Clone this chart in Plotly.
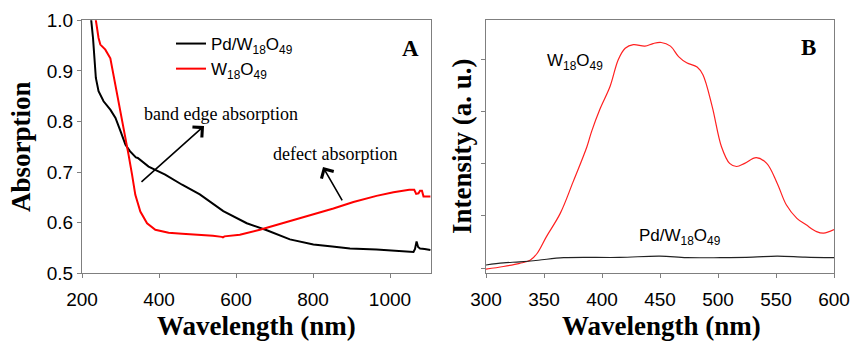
import plotly.graph_objects as go

# ---- Panel A: absorption spectra ----
wl_pd = [221, 224, 228.6, 233, 236, 243, 256, 274, 287, 300, 313, 325, 336, 340, 345, 373, 416, 460,
         506, 567, 628, 680, 740, 801, 850, 896, 965, 1020, 1061, 1065, 1069, 1073, 1078, 1090, 1105]
abs_pd = [1.01, 1.0, 0.965, 0.925, 0.886, 0.860, 0.840, 0.823, 0.807, 0.781, 0.754, 0.741, 0.733, 0.729,
          0.728, 0.711, 0.695, 0.675, 0.656, 0.623, 0.599, 0.585, 0.567, 0.557, 0.553, 0.549, 0.547,
          0.544, 0.542, 0.548, 0.563, 0.552, 0.549, 0.548, 0.546]

wl_w = [234, 236, 243, 247.6, 260.6, 273.6, 282, 295, 308, 321, 330, 338.5, 351.5, 369, 390.5, 425, 460,
        506, 540, 563, 566, 570, 610, 662, 723, 783, 853, 905, 965, 1009, 1050, 1063, 1068, 1074, 1078,
        1083, 1087, 1105]
abs_w = [1.01, 1.0, 0.965, 0.952, 0.942, 0.925, 0.892, 0.840, 0.787, 0.734, 0.695, 0.655, 0.622, 0.599,
         0.586, 0.580, 0.578, 0.576, 0.574, 0.572, 0.571, 0.573, 0.576, 0.586, 0.599, 0.612, 0.628, 0.641,
         0.653, 0.660, 0.665, 0.665, 0.657, 0.658, 0.663, 0.663, 0.652, 0.652]

# ---- Panel B: PL spectra (arbitrary units) ----
wl_pl_w = [300, 315, 329, 338, 344, 352, 364, 375, 387, 391, 398, 407, 414, 420, 427, 437, 444, 451, 459,
           466, 473, 482, 487, 495, 503, 510, 516, 523, 533, 542, 551, 559, 568, 576, 585, 591, 600]
pl_w = [-0.02, 0.03, 0.09, 0.15, 0.28, 0.6, 1.05, 1.65, 2.33, 2.62, 3.04, 3.49, 4.0, 4.22, 4.29, 4.26,
        4.31, 4.33, 4.26, 4.06, 3.94, 3.86, 3.71, 3.10, 2.33, 2.01, 1.95, 2.01, 2.12, 2.01, 1.63, 1.21,
        0.955, 0.83, 0.70, 0.67, 0.74]

wl_pl_pd = [300, 315, 329, 345, 367, 415, 450, 473, 502, 530, 551, 575, 600]
pl_pd = [0.06, 0.10, 0.12, 0.15, 0.20, 0.205, 0.23, 0.20, 0.20, 0.21, 0.23, 0.21, 0.20]

xticks_a = [200, 400, 600, 800, 1000]
yticks_a = [0.5, 0.6, 0.7, 0.8, 0.9, 1.0]
xticks_b = [300, 350, 400, 450, 500, 550, 600]
yticks_b = [0, 1, 2, 3, 4]

SANS = "Liberation Sans, Arial, sans-serif"
SERIF = "Liberation Serif, Times New Roman, serif"

fig = go.Figure()
fig.add_trace(go.Scatter(x=wl_pd, y=abs_pd, mode="lines", name="Pd/W<sub>18</sub>O<sub>49</sub>",
                         line=dict(color="black", width=2), xaxis="x", yaxis="y"))
fig.add_trace(go.Scatter(x=wl_w, y=abs_w, mode="lines", name="W<sub>18</sub>O<sub>49</sub>",
                         line=dict(color="#ff0000", width=2), xaxis="x", yaxis="y"))
fig.add_trace(go.Scatter(x=wl_pl_w, y=pl_w, mode="lines", showlegend=False, line_shape="spline",
                         line=dict(color="#ff2020", width=1.2), xaxis="x2", yaxis="y2"))
fig.add_trace(go.Scatter(x=wl_pl_pd, y=pl_pd, mode="lines", showlegend=False, line_shape="spline",
                         line=dict(color="#222222", width=1.1), xaxis="x2", yaxis="y2"))

axis_common = dict(showgrid=False, zeroline=False, showline=True, mirror=True, linecolor="#7f7f7f",
                   linewidth=1, ticks="outside", ticklen=4, tickcolor="#7f7f7f", automargin=False,
                   tickfont=dict(family=SANS, size=19, color="black"))

fig.update_layout(
    width=853, height=344, autosize=False,
    margin=dict(l=0, r=0, t=0, b=0, pad=0, autoexpand=False),
    paper_bgcolor="white", plot_bgcolor="white",
    xaxis=dict(domain=[82/853, 431/853], range=[200, 1106.5], tickvals=xticks_a, anchor="y",
               ticklabelstandoff=5, **axis_common),
    yaxis=dict(domain=[1-273.3/344, 1-20.3/344], range=[0.5, 1.0], tickvals=yticks_a, tickformat=".1f",
               anchor="x", **axis_common),
    xaxis2=dict(domain=[486/853, 834/853], range=[300, 600], tickvals=xticks_b, anchor="y2",
                ticklabelstandoff=5, **axis_common),
    yaxis2=dict(domain=[1-273.3/344, 1-20.3/344], range=[-0.1, 4.756], tickvals=yticks_b,
                showticklabels=False, anchor="x2", **axis_common),
    legend=dict(x=171/853, y=1-26/344, xanchor="left", yanchor="top", bgcolor="rgba(0,0,0,0)",
                font=dict(family=SANS, size=17, color="black"), tracegroupgap=0),
    showlegend=True,
)

TITLE_FONT = dict(family=SERIF, size=27, color="black", weight="bold")
ann = []
# axis titles
ann.append(dict(text="Absorption", x=21/853, y=1-147/344, textangle=-90, font=TITLE_FONT))
ann.append(dict(text="Wavelength (nm)", x=256.7/853, y=1-326/344, font=TITLE_FONT))
ann.append(dict(text="Wavelength (nm)", x=661/853, y=1-326/344, font=TITLE_FONT))
ann.append(dict(text="Intensity (a. u.)", x=462/853, y=1-146/344, textangle=-90, font=TITLE_FONT))
# panel labels
ann.append(dict(text="A", x=410/853, y=1-48/344, font=dict(family=SERIF, size=23, color="black", weight="bold")))
ann.append(dict(text="B", x=808/853, y=1-47/344, font=dict(family=SERIF, size=23, color="black", weight="bold")))
for a in ann:
    a.update(xref="paper", yref="paper", showarrow=False, xanchor="center", yanchor="middle")

# text labels panel A
ann.append(dict(text="band edge absorption", x=561, y=0.815, xref="x", yref="y", showarrow=False,
                xanchor="center", yanchor="middle", font=dict(family=SERIF, size=18, color="black")))
ann.append(dict(text="defect absorption", x=856, y=0.736, xref="x", yref="y", showarrow=False,
                xanchor="center", yanchor="middle", font=dict(family=SERIF, size=18, color="black")))
# arrows panel A
ann.append(dict(text="", x=517, y=0.791, ax=350.6, ay=0.678, xref="x", yref="y", axref="x", ayref="y",
                showarrow=True, arrowhead=4, arrowsize=1.7, arrowwidth=1.6, arrowcolor="black"))
ann.append(dict(text="", x=826, y=0.710, ax=878, ay=0.641, xref="x", yref="y", axref="x", ayref="y",
                showarrow=True, arrowhead=4, arrowsize=1.7, arrowwidth=1.6, arrowcolor="black"))
# labels panel B
ann.append(dict(text="W<sub>18</sub>O<sub>49</sub>", x=376.5, y=3.95, xref="x2", yref="y2", showarrow=False,
                xanchor="center", yanchor="middle", font=dict(family=SANS, size=17, color="black")))
ann.append(dict(text="Pd/W<sub>18</sub>O<sub>49</sub>", x=467, y=0.6, xref="x2", yref="y2", showarrow=False,
                xanchor="center", yanchor="middle", font=dict(family=SANS, size=17, color="black")))
fig.update_layout(annotations=ann)

fig.write_html("out.html")
